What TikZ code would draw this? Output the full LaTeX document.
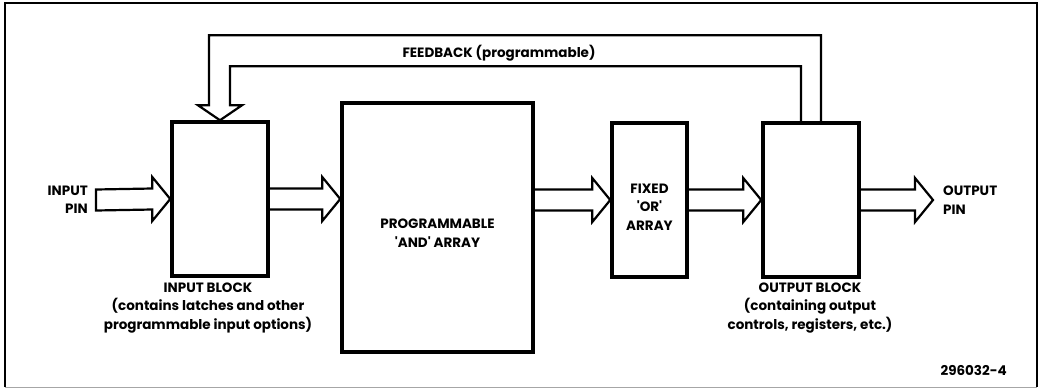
\documentclass[tikz,border=0pt]{standalone}
\usepackage{fontspec}
\setmainfont{Poppins}
\usetikzlibrary{calc}
\tikzset{
  blk/.style={draw, line width=3.5pt, minimum width=#1, inner sep=0pt},
  txt/.style={font=\fontsize{13.5}{18.5}\selectfont\bfseries, inner sep=0pt, align=center},
  hollow/.style={line width=2.2pt, line join=miter, to path={
    let \p1=(\tikztostart), \p2=(\tikztotarget) in
    (\x1,\y1+10.5pt) -- (\x2-18pt,\y2+10.5pt) -- (\x2-18pt,\y2+22pt) -- (\x2,\y2)
    -- (\x2-18pt,\y2-22pt) -- (\x2-18pt,\y2-10.5pt) -- (\x1,\y1-10.5pt)}},
  fb/.style={line width=2.2pt, line join=miter, to path={
    let \p1=(\tikztostart), \p2=(\tikztotarget) in
    (\x1+10pt,\y1) -- (\x1+10pt,\y1+86pt) -- (\x2-11pt,\y1+86pt) -- (\x2-11pt,\y2+15pt)
    -- (\x2-22pt,\y2+15pt) -- (\x2,\y2) -- (\x2+22pt,\y2+15pt) -- (\x2+10pt,\y2+15pt)
    -- (\x2+10pt,\y1+55pt) -- (\x1-10pt,\y1+55pt) -- (\x1-10pt,\y1)}}
}
\begin{document}
\begin{tikzpicture}[x=1pt,y=-1pt]
\useasboundingbox (0,0) rectangle (1043,389);
\draw[line width=1.3pt] (5,387) -- (5,3) -- (1037,3) -- (1037,387);
\draw[line width=1pt, black!35] (5,387) -- (1037,387);

\node[blk=96pt, minimum height=154pt] (inb) at (220,199) {};
\node[blk=191pt, minimum height=249pt] (and) at (437.5,227.5) {};
\node[blk=75pt, minimum height=154pt] (or) at (649.5,200) {};
\node[blk=96pt, minimum height=154pt] (outb) at (811,200) {};

\coordinate (pin) at (96,200);
\coordinate (pout) at (933,200);

\draw[hollow] (pin) to (inb.west) -- cycle;
\draw[hollow] (inb.east) to (and.west |- inb.east);
\draw[hollow] (and.east |- or.west) to (or.west);
\draw[hollow] (or.east) to (outb.west);
\draw[hollow] (outb.east) to (pout);
\draw[fb] (outb.north) to (inb.north);

\node[txt, align=right, anchor=east] (tin) at (88,200) {INPUT\\PIN};
\node[txt, align=left, anchor=west] (tout) at (943,200) {OUTPUT\\PIN};
\node[txt] (tfb) at (499,53) {FEEDBACK (programmable)};
\node[txt] (tand) at (437.5,233) {PROGRAMMABLE\\\textquotesingle AND\textquotesingle\ ARRAY};
\node[txt] (tor) at (649.5,207) {FIXED\\\textquotesingle OR\textquotesingle\\ARRAY};
\node[txt] (tinb) at (208,308) {INPUT BLOCK\\(contains latches and other\\programmable input options)};
\node[txt] (toutb) at (810,308) {OUTPUT BLOCK\\(containing output\\controls, registers, etc.)};
\node[txt, anchor=east] (tnum) at (1007,370) {296032-4};
\end{tikzpicture}
\end{document}
